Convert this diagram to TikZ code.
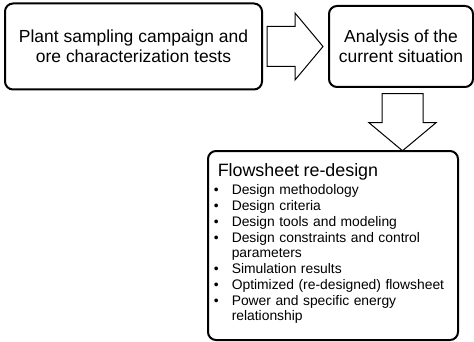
\documentclass[tikz,border=0pt]{standalone}
\usepackage{fontspec}
\setmainfont{Liberation Sans}
\usetikzlibrary{calc}
\newcommand{\flowitem}[1]{\par\vspace{0.75pt}\hangindent=13.5pt\hangafter=1\noindent\makebox[13.5pt][l]{\textbullet}#1\par}

\begin{document}
\begin{tikzpicture}[x=0.75pt,y=0.75pt,yscale=-1,xscale=1,
  stagebox/.style={draw, line width=1.5pt, rounded corners=6pt, align=center, inner sep=0pt, font=\fontsize{13.1}{15}\selectfont},
  blockarrow/.style={draw, line width=0.75pt, line join=miter}]
\useasboundingbox (0,0) rectangle (474,342);

%Rounded Rect [plant]
\node[stagebox, minimum width=192.75pt, minimum height=64.5pt] (plant) at (133.5,46.5) {Plant sampling campaign and\\ore characterization tests};
%Rounded Rect [analysis]
\node[stagebox, minimum width=108pt, minimum height=60.75pt] (analysis) at (401,46.5) {Analysis of the\\current situation};
%Rounded Rect [redesign]
\node[stagebox, minimum width=187.5pt, minimum height=141.75pt] (redesign) at (333,245.5) {};

%Right Arrow
\draw[blockarrow] ($(plant.east)+(4,-20)$) -- ++(28,0) -- ++(0,-13.5) -- ++(28,33.5) -- ++(-28,33.5) -- ++(0,-13.5) -- ++(-28,0) -- cycle;
%Down Arrow
\draw[blockarrow] ($(analysis.south)+(-19,5.75)$) -- ++(41,0) -- ++(0,29) -- ++(13,0) -- ++(-33.5,28) -- ++(-33.5,-28) -- ++(13,0) -- cycle;

% Text Node
\node[anchor=base west, inner sep=0pt, text width=177.75pt, align=left] (redesignlist) at (213.5,176.7) {%
\hyphenpenalty=10000\exhyphenpenalty=10000
{\fontsize{13.4}{16}\selectfont\hspace*{3pt}Flowsheet re-design\par}
\vspace{1.2pt}
\fontsize{10.4}{11.25}\selectfont
\flowitem{Design methodology}
\flowitem{Design criteria}
\flowitem{Design tools and modeling}
\flowitem{Design constraints and control parameters}
\flowitem{Simulation results}
\flowitem{Optimized (re-designed) flowsheet}
\flowitem{Power and specific energy relationship}};

\end{tikzpicture}
\end{document}
